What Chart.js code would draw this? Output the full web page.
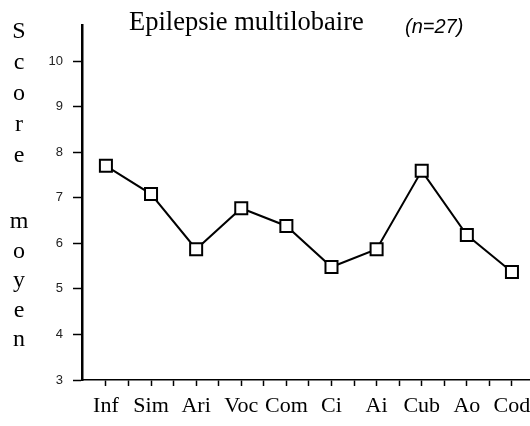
<!DOCTYPE html>
<html>
<head>
<meta charset="utf-8">
<script src="https://cdn.jsdelivr.net/npm/chart.js@4"></script>
<style>
  html, body { margin: 0; padding: 0; background: #fff; }
  #wrap { position: relative; width: 530px; height: 426px; }
</style>
</head>
<body>
<div id="wrap"><canvas id="scoreChart" width="530" height="426"></canvas></div>
<script>
const categories = ['Inf', 'Sim', 'Ari', 'Voc', 'Com', 'Ci', 'Ai', 'Cub', 'Ao', 'Cod'];
const scores = [7.70, 7.08, 5.87, 6.77, 6.38, 5.48, 5.87, 7.59, 6.18, 5.37];
const yTicks = [3, 4, 5, 6, 7, 8, 9, 10];
const yWords = ['Score', 'moyen'];
const titleText = 'Epilepsie multilobaire';
const nText = '(n=27)';

const points = scores.map((v, i) => ({ x: i, y: v }));

// let the x axis run to the right edge of the canvas
const fullWidth = {
    id: 'fullWidth',
    afterLayout(chart) {
        const x = chart.scales.x;
        const area = chart.chartArea;
        x.right = chart.width;
        x.width = x.right - x.left;
        area.right = chart.width;
        area.width = area.right - area.left;
        x.configure();
    }
};

// title, sample size and the stacked y label
const textPlugin = {
    id: 'texts',
    afterDraw(chart) {
        const c = chart.ctx;
        c.save();
        c.fillStyle = '#000';
        c.textBaseline = 'alphabetic';
        c.textAlign = 'center';
        c.font = '24px "Liberation Serif"';
        const starts = [38, 228];
        const steps = [31, 29.5];
        yWords.forEach((w, k) => {
            w.split('').forEach((l, i) => c.fillText(l, 19, starts[k] + i * steps[k]));
        });
        c.textAlign = 'left';
        c.font = '26.5px "Liberation Serif"';
        c.fillText(titleText, 129, 30);
        c.font = 'italic 20px "Liberation Sans"';
        c.fillText(nText, 405, 33);
        c.restore();
    }
};

new Chart(document.getElementById('scoreChart'), {
    type: 'line',
    data: {
        datasets: [{
            data: points,
            borderColor: '#000',
            borderWidth: 2,
            tension: 0,
            pointStyle: 'rect',
            pointRadius: 8.5,
            pointBorderWidth: 2,
            pointBackgroundColor: '#fff',
            pointBorderColor: '#000'
        }, {
            data: points,
            showLine: false,
            pointStyle: 'circle',
            pointRadius: 1,
            pointBorderWidth: 0,
            pointBackgroundColor: '#000'
        }]
    },
    options: {
        responsive: false,
        animation: false,
        layout: { padding: { top: 25, right: 0, left: 0, bottom: 0 } },
        plugins: { legend: { display: false }, tooltip: { enabled: false } },
        scales: {
            x: {
                type: 'linear',
                min: -0.53,
                max: 9.4,
                afterBuildTicks(scale) {
                    const t = [];
                    for (let i = 0; i <= (categories.length - 1) * 2; i++) t.push({ value: i / 2 });
                    scale.ticks = t;
                },
                afterFit(scale) { scale.height = 46; },
                border: { color: '#000', width: 1.5 },
                grid: { drawOnChartArea: false, tickLength: 6, tickColor: '#000', tickWidth: 1.5 },
                ticks: {
                    autoSkip: false,
                    maxRotation: 0,
                    padding: 7,
                    color: '#000',
                    font: { family: 'Liberation Serif', size: 22 },
                    callback: v => Number.isInteger(v) ? categories[v] : ''
                }
            },
            y: {
                min: 3,
                max: 10.79,
                afterBuildTicks(scale) {
                    scale.ticks = yTicks.map(v => ({ value: v }));
                },
                afterFit(scale) {
                    scale.width = 82;
                    scale.paddingTop = 0;
                    scale.paddingBottom = 0;
                },
                border: { color: '#000', width: 2.5 },
                grid: { drawOnChartArea: false, tickLength: 9, tickColor: '#000', tickWidth: 1.5 },
                ticks: {
                    padding: 10,
                    color: '#222',
                    font: { family: 'Liberation Sans', size: 13 }
                }
            }
        }
    },
    plugins: [fullWidth, textPlugin]
});
</script>
</body>
</html>
